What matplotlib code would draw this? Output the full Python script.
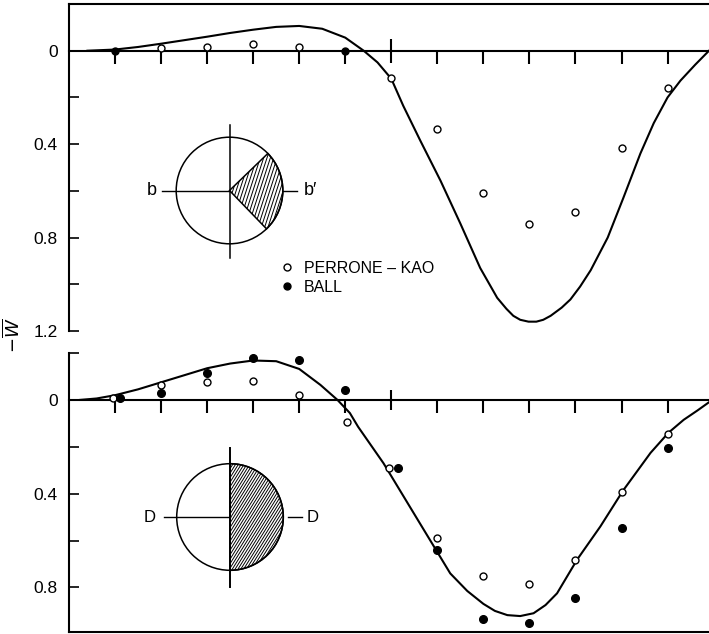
import numpy as np
import matplotlib
matplotlib.use("Agg")
import matplotlib.pyplot as plt
from matplotlib.patches import Circle, Wedge
from matplotlib.collections import LineCollection
from matplotlib.ticker import FixedLocator, FixedFormatter

plt.rcParams['font.family'] = ['Liberation Sans', 'DejaVu Sans']

# ---------------- data ----------------
# upper panel: theory curve and measurements (-W, plotted downward)
top_curve_x = [0.4, 1.0, 1.5, 2.0, 2.5, 3.0, 3.5, 4.0, 4.5, 5.0, 5.5, 6.0, 6.4, 6.7,
               7.0, 7.26, 7.63, 8.07, 8.5, 8.93, 9.3, 9.5, 9.65, 9.8, 9.98, 10.15, 10.3,
               10.46, 10.7, 10.89, 11.1, 11.33, 11.7, 12.04, 12.41, 12.7, 13.0, 13.28,
               13.6, 13.9]
top_curve_y = [0.0, -0.005, -0.016, -0.03, -0.045, -0.06, -0.076, -0.09, -0.102, -0.106,
               -0.094, -0.056, 0.0, 0.05, 0.12, 0.236, 0.385, 0.557, 0.74, 0.93, 1.058,
               1.105, 1.135, 1.152, 1.16, 1.16, 1.152, 1.135, 1.1, 1.065, 1.01, 0.94,
               0.80, 0.63, 0.44, 0.31, 0.2, 0.128, 0.06, 0.0]
top_pk_x = [2, 3, 4, 5, 7, 8, 9, 10, 11, 12, 13]
top_pk_y = [-0.013, -0.017, -0.03, -0.017, 0.116, 0.334, 0.608, 0.741, 0.69, 0.415, 0.16]
top_ball_x = [1, 6]
top_ball_y = [0.0, 0.0]

# lower panel
bot_curve_x = [0.24, 0.6, 1.0, 1.5, 2.0, 2.5, 3.0, 3.5, 4.0, 4.5, 5.0, 5.46, 5.83, 6.1,
               6.28, 6.83, 7.57, 8.28, 8.65, 9.0, 9.25, 9.52, 9.8, 10.09, 10.35, 10.6,
               11.04, 11.54, 12.04, 12.63, 13.02, 13.35, 13.65, 13.9]
bot_curve_y = [0.0, -0.006, -0.02, -0.045, -0.075, -0.105, -0.135, -0.155, -0.168, -0.165,
               -0.132, -0.064, 0.0, 0.056, 0.115, 0.27, 0.51, 0.74, 0.815, 0.87, 0.9,
               0.918, 0.922, 0.91, 0.875, 0.825, 0.68, 0.54, 0.385, 0.226, 0.14, 0.085,
               0.045, 0.01]
bot_pk_x = [0.95, 2, 3, 4, 5, 6.03, 6.95, 8, 9, 10, 11, 12, 13]
bot_pk_y = [-0.01, -0.065, -0.077, -0.08, -0.02, 0.094, 0.29, 0.59, 0.75, 0.786, 0.684, 0.393, 0.145]
bot_ball_x = [1.1, 2, 3, 4, 5, 6, 7.15, 8, 9, 10, 11, 12, 13]
bot_ball_y = [-0.01, -0.03, -0.115, -0.18, -0.17, -0.043, 0.29, 0.64, 0.935, 0.95, 0.846, 0.547, 0.205]

x_ticks = [1, 2, 3, 4, 5, 6, 8, 9, 10, 11, 12, 13]
x_tick_long = [7]
top_ylabels = ['0', '0.4', '0.8', '1.2']
top_yticks = [0, 0.4, 0.8, 1.2]
top_yminor = [0.2, 0.6, 1.0]
bot_ylabels = ['0', '0.4', '0.8']
bot_yticks = [0, 0.4, 0.8]
bot_yminor = [-0.2, 0.2, 0.6]
legend_labels = ['PERRONE – KAO', 'BALL']

# ---------------- figure ----------------
W, H = 709, 634
fig = plt.figure(figsize=(W / 100, H / 100), dpi=100)

def px_axes(x0, y0, x1, y1):
    return fig.add_axes([x0 / W, 1 - y1 / H, (x1 - x0) / W, (y1 - y0) / H])

ax1 = px_axes(69, 4, 709, 331)
ax2 = px_axes(69, 353, 709, 632)

LW = 1.5
for ax in (ax1, ax2):
    ax.set_xlim(0, 13.9)
    ax.spines['right'].set_visible(False)
    for s in ax.spines.values():
        s.set_linewidth(LW)
    ax.tick_params(axis='y', which='both', direction='in', length=7, width=1.2,
                   labelsize=12.5, pad=8, right=False)

# upper panel
ax1.set_ylim(1.2, -0.2)
ax1.spines['bottom'].set_position(('data', 0))
ax1.xaxis.set_major_locator(FixedLocator(x_ticks))
ax1.xaxis.set_minor_locator(FixedLocator(x_tick_long))
ax1.tick_params(axis='x', which='major', direction='out', length=9.5, width=1.5, labelbottom=False)
ax1.tick_params(axis='x', which='minor', direction='inout', length=17, width=1.5, labelbottom=False)
ax1.yaxis.set_major_locator(FixedLocator(top_yticks))
ax1.yaxis.set_major_formatter(FixedFormatter(top_ylabels))
ax1.yaxis.set_minor_locator(FixedLocator(top_yminor))

ax1.plot(top_curve_x, top_curve_y, color='black', lw=1.5, zorder=3)
ax1.plot(top_pk_x, top_pk_y, ls='none', marker='o', ms=5, mfc='white', mec='black',
         mew=1.0, zorder=4, label=legend_labels[0])
ax1.plot(top_ball_x, top_ball_y, ls='none', marker='o', ms=5, mfc='black', mec='black',
         zorder=4, label=legend_labels[1])

ax1.legend(loc='upper left', bbox_to_anchor=(279 / W, 1 - 261 / H),
           bbox_transform=fig.transFigure, frameon=False, fontsize=11.5,
           handlelength=1.0, handletextpad=0.55, labelspacing=0.25, borderpad=0,
           borderaxespad=0)

# lower panel
ax2.set_ylim(0.99, -0.2)
ax2.spines['top'].set_position(('data', 0))
ax2.xaxis.set_ticks_position('top')
ax2.xaxis.set_major_locator(FixedLocator(x_ticks))
ax2.xaxis.set_minor_locator(FixedLocator(x_tick_long))
ax2.tick_params(axis='x', which='major', direction='in', length=9, width=1.5,
                labeltop=False, labelbottom=False, bottom=False)
ax2.tick_params(axis='x', which='minor', direction='inout', length=14, width=1.5,
                labeltop=False, labelbottom=False, bottom=False)
ax2.yaxis.set_major_locator(FixedLocator(bot_yticks))
ax2.yaxis.set_major_formatter(FixedFormatter(bot_ylabels))
ax2.yaxis.set_minor_locator(FixedLocator(bot_yminor))

ax2.plot(bot_curve_x, bot_curve_y, color='black', lw=1.5, zorder=3)
ax2.plot(bot_pk_x, bot_pk_y, ls='none', marker='o', ms=5, mfc='white', mec='black',
         mew=1.0, zorder=4)
ax2.plot(bot_ball_x, bot_ball_y, ls='none', marker='o', ms=5.5, mfc='black', mec='black',
         zorder=4)

# y label spanning both panels
fig.text(13 / W, 1 - 335 / H, r'$-\overline{W}$', rotation=90, ha='center', va='center',
         fontsize=13)

# ---------------- inset circles ----------------
def inset(cx, cy, size=180):
    a = fig.add_axes([(cx - size / 2) / W, 1 - (cy + size / 2) / H, size / W, size / H])
    half = size / 2 / 53.3
    a.set_xlim(-half, half)
    a.set_ylim(-half, half)
    a.set_aspect('equal')
    a.axis('off')
    return a

def hatch(a, patch, angle_deg, spacing):
    d = np.array([np.cos(np.radians(angle_deg)), np.sin(np.radians(angle_deg))])
    n = np.array([-d[1], d[0]])
    segs = []
    for off in np.arange(-1.5, 1.5, spacing):
        c = n * off
        segs.append([c - 2 * d, c + 2 * d])
    lc = LineCollection(segs, colors='black', linewidths=0.7)
    a.add_collection(lc)
    lc.set_clip_path(patch)

# upper inset
ai = inset(229.5, 190.5)
w1 = Wedge((0, 0), 1, -46, 44, facecolor='white', edgecolor='black', lw=1.1, zorder=2)
ai.add_patch(w1)
hatch(ai, w1, 72, 0.06)
ai.add_patch(Circle((0, 0), 1, fill=False, edgecolor='black', lw=1.1, zorder=3))
ai.plot([0, 0], [-1.27, 1.23], color='black', lw=1.1)
ai.plot([-1.27, 0], [0, 0], color='black', lw=1.0)
ai.plot([1.0, 1.27], [0, 0], color='black', lw=1.0)
ai.text(-1.45, 0, 'b', ha='center', va='center', fontsize=13)
ai.text(1.52, 0, 'b′', ha='center', va='center', fontsize=13)

# lower inset
bi = inset(230, 517)
w2 = Wedge((0, 0), 1, -90, 90, facecolor='white', edgecolor='black', lw=1.1, zorder=2)
bi.add_patch(w2)
hatch(bi, w2, 58, 0.045)
bi.add_patch(Circle((0, 0), 1, fill=False, edgecolor='black', lw=1.1, zorder=3))
bi.plot([0, 0], [-1.32, 1.3], color='black', lw=1.4)
bi.plot([-1.23, 0], [0, 0], color='black', lw=1.0)
bi.plot([1.08, 1.36], [0, 0], color='black', lw=1.0)
bi.text(-1.5, 0, 'D', ha='center', va='center', fontsize=12)
bi.text(1.55, 0, 'D', ha='center', va='center', fontsize=12)

fig.savefig('out.png', dpi=100)
